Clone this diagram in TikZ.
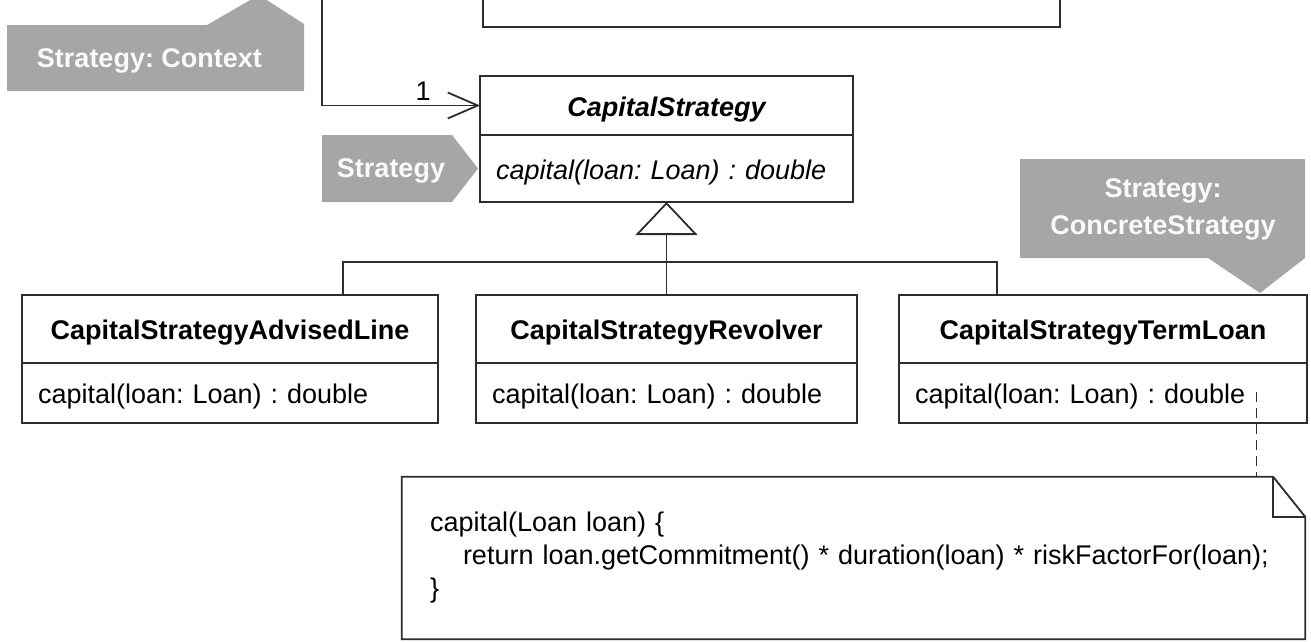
\documentclass[tikz,border=0pt]{standalone}
\usepackage{fontspec}
\setmainfont{Liberation Sans}
\usetikzlibrary{arrows.meta,positioning}
\definecolor{umlline}{RGB}{45,45,45}
\definecolor{tagfill}{RGB}{166,166,166}
\definecolor{tagtext}{RGB}{250,250,250}
\newcommand{\umlsize}{\fontsize{27}{33}\selectfont}
\frenchspacing
\tikzset{
  classhead/.style={draw=umlline, line width=1.8pt, inner sep=0pt, outer sep=0pt, minimum height=68pt, text height=26pt, text depth=5pt, font=\umlsize\bfseries},
  classop/.style={draw=umlline, line width=1.8pt, inner xsep=16pt, inner ysep=0pt, outer sep=0pt, minimum height=60pt, text height=26pt, text depth=5pt, align=left, font=\umlsize},
  tagtxt/.style={text=tagtext, font=\umlsize\bfseries, align=center},
  link/.style={draw=umlline, line width=1.8pt},
  inherit/.style={-{Triangle[open, length=33pt, width=62pt]}},
  assoc/.style={-{Straight Barb[length=30pt, width=26pt]}},
  notebox/.style={minimum width=903pt, minimum height=162pt, text width=847pt, inner xsep=28pt, align=left, font=\umlsize},
  notelink/.style={draw=umlline, line width=1pt, dash pattern=on 10pt off 6pt}
}

\begin{document}
\begin{tikzpicture}[x=1pt, y=-1pt]
  \useasboundingbox (0,0) rectangle (1311,641);
  \clip (0,0) rectangle (1311,641);

  % pattern role tags
  \fill[tagfill] (7,25) -- (207,25) -- (259,-5) -- (304,24) -- (304,91) -- (7,91) -- cycle;
  \node[tagtxt] (ctxtag) at (149.5,61) {Strategy: Context};
  \fill[tagfill] (322,135) -- (452,135) -- (478,168.5) -- (452,202) -- (322,202) -- cycle;
  \node[tagtxt] (strtag) at (391,171) {Strategy};
  \fill[tagfill] (1020,159) -- (1305,159) -- (1305,258) -- (1260,293) -- (1208,258) -- (1020,258) -- cycle;
  \node[tagtxt, font=\fontsize{27}{37}\selectfont\bfseries] (cstag) at (1163,209) {Strategy:\\ConcreteStrategy};

  % context class (cut off at the top)
  \node[classhead, minimum width=577pt, minimum height=114pt] (client) at (771.5,-30) {};

  % abstract strategy
  \node[classhead, minimum width=373pt, minimum height=59pt, font=\umlsize\bfseries\itshape] (cshead) at (666.5,105.5) {CapitalStrategy};
  \node[classop, text width=341pt, minimum height=67pt, font=\umlsize\itshape, below=0pt of cshead] (csop) {capital(loan: Loan) : double};

  % concrete strategies
  \node[classhead, minimum width=416pt] (advhead) at (230,329) {CapitalStrategyAdvisedLine};
  \node[classop, text width=384pt, below=0pt of advhead] (advop) {capital(loan: Loan) : double};
  \node[classhead, minimum width=381pt] (revhead) at (666.5,329) {CapitalStrategyRevolver};
  \node[classop, text width=349pt, below=0pt of revhead] (revop) {capital(loan: Loan) : double};
  \node[classhead, minimum width=408pt] (termhead) at (1103,329) {CapitalStrategyTermLoan};
  \node[classop, text width=376pt, below=0pt of termhead] (termop) {capital(loan: Loan) : double};

  % association
  \coordinate (ctxsrc) at (322,-5);
  \draw[link, assoc] (ctxsrc) |- (cshead.west) node[pos=0.82, above, font=\umlsize, inner sep=4pt] (mult) {1};

  % generalization
  \coordinate (join) at (666.5,262);
  \draw[link, inherit] (revhead.north) -- (csop.south);
  \draw[link] ([xshift=113pt]advhead.north) |- (join) -| ([xshift=-106pt]termhead.north);

  % note
  \node[notebox] (note) at (853.5,558) {capital(Loan loan) \{\\\hspace*{33pt}return loan.getCommitment() * duration(loan) * riskFactorFor(loan);\\\}};
  \draw[link] (note.north west) -- ([xshift=-32pt]note.north east) -- ([yshift=-40pt]note.north east) -- (note.south east) -- (note.south west) -- cycle;
  \draw[link] ([xshift=-32pt]note.north east) |- ([yshift=-40pt]note.north east);
  \coordinate (dashtop) at (1256,392);
  \draw[notelink] (dashtop) -- (dashtop |- note.north);
\end{tikzpicture}
\end{document}
